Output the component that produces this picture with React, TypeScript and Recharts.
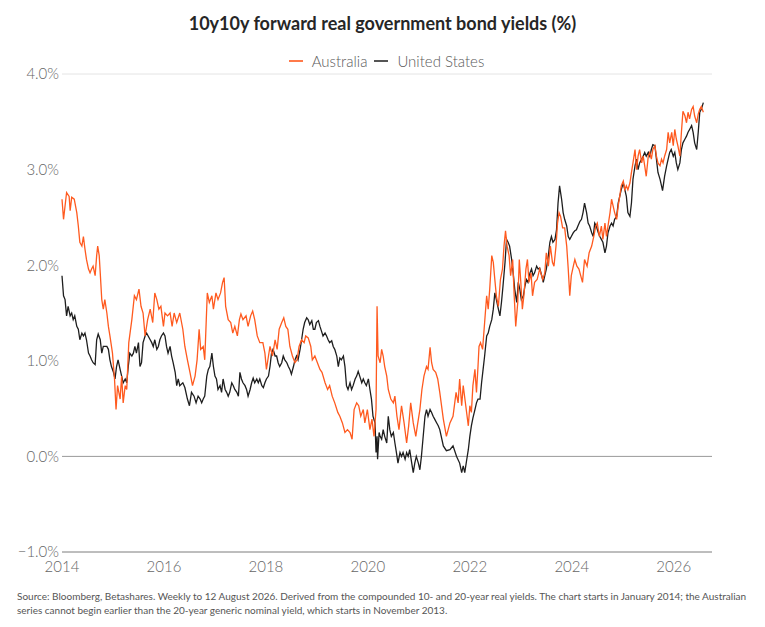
import React from 'react';
import { LineChart, Line, XAxis, YAxis, CartesianGrid, ReferenceLine } from 'recharts';

const title = '10y10y forward real government bond yields (%)';
const seriesNames = ['Australia', 'United States'];
const seriesColors = ['#FF5A1F', '#1E1E1E'];
const legendSwatchColors = ['#FF7A4A', '#555555'];
const yTicks = [-1, 0, 1, 2, 3, 4];
const xTicks = [2014, 2016, 2018, 2020, 2022, 2024, 2026];
const sourceLines = [
  'Source: Bloomberg, Betashares. Weekly to 12 August 2026. Derived from the compounded 10- and 20-year real yields. The chart starts in January 2014; the Australian',
  'series cannot begin earlier than the 20-year generic nominal yield, which starts in November 2013.',
];

const auYears = [
  2014.00, 2014.03, 2014.09, 2014.14, 2014.16, 2014.19, 2014.24, 2014.29, 2014.32, 2014.35, 2014.39, 2014.42, 2014.45, 2014.48, 2014.52, 2014.55, 2014.58, 2014.61, 2014.65, 2014.68, 2014.70, 2014.73, 2014.75, 2014.78, 2014.81, 2014.84, 2014.88, 2014.91, 2014.94, 2014.99,
  2015.03, 2015.06, 2015.09, 2015.14, 2015.17, 2015.20, 2015.24, 2015.27, 2015.31, 2015.37, 2015.42, 2015.46, 2015.51, 2015.55, 2015.59, 2015.63, 2015.68, 2015.73, 2015.78, 2015.82, 2015.86, 2015.90, 2015.94, 2015.99,
  2016.02, 2016.07, 2016.12, 2016.16, 2016.20, 2016.25, 2016.31, 2016.37, 2016.41, 2016.46, 2016.51, 2016.56, 2016.61, 2016.65, 2016.69, 2016.72, 2016.77, 2016.80, 2016.85, 2016.89, 2016.94, 2016.97,
  2017.02, 2017.06, 2017.11, 2017.15, 2017.18, 2017.21, 2017.26, 2017.31, 2017.35, 2017.39, 2017.44, 2017.48, 2017.51, 2017.55, 2017.61, 2017.65, 2017.70, 2017.74, 2017.78, 2017.83, 2017.88, 2017.94, 2017.98,
  2018.01, 2018.05, 2018.08, 2018.13, 2018.18, 2018.22, 2018.26, 2018.31, 2018.35, 2018.39, 2018.43, 2018.47, 2018.52, 2018.57, 2018.61, 2018.65, 2018.70, 2018.75, 2018.78, 2018.83, 2018.88, 2018.91, 2018.96,
  2019.01, 2019.06, 2019.10, 2019.16, 2019.21, 2019.25, 2019.30, 2019.35, 2019.41, 2019.45, 2019.50, 2019.55, 2019.60, 2019.65, 2019.69, 2019.73, 2019.78, 2019.82, 2019.86, 2019.91, 2019.94, 2019.99,
  2020.04, 2020.08, 2020.12, 2020.16, 2020.18, 2020.20, 2020.24, 2020.27, 2020.30, 2020.33, 2020.37, 2020.40, 2020.45, 2020.50, 2020.53, 2020.57, 2020.61, 2020.66, 2020.71, 2020.76, 2020.80, 2020.84, 2020.89, 2020.94, 2020.97,
  2021.02, 2021.06, 2021.10, 2021.15, 2021.18, 2021.22, 2021.25, 2021.28, 2021.33, 2021.37, 2021.41, 2021.48, 2021.54, 2021.61, 2021.67, 2021.73, 2021.77, 2021.80, 2021.84, 2021.87, 2021.92, 2021.97,
  2022.00, 2022.03, 2022.06, 2022.10, 2022.13, 2022.16, 2022.18, 2022.21, 2022.25, 2022.29, 2022.33, 2022.36, 2022.39, 2022.43, 2022.46, 2022.49, 2022.52, 2022.56, 2022.60, 2022.64, 2022.67, 2022.70, 2022.73, 2022.77, 2022.80, 2022.84, 2022.87, 2022.90, 2022.94, 2022.97,
  2023.00, 2023.03, 2023.06, 2023.10, 2023.13, 2023.16, 2023.20, 2023.23, 2023.27, 2023.32, 2023.37, 2023.43, 2023.47, 2023.50, 2023.54, 2023.58, 2023.62, 2023.65, 2023.69, 2023.72, 2023.75, 2023.78, 2023.82, 2023.86, 2023.90, 2023.93, 2023.96, 2023.99,
  2024.03, 2024.06, 2024.10, 2024.14, 2024.21, 2024.25, 2024.30, 2024.34, 2024.39, 2024.43, 2024.47, 2024.50, 2024.54, 2024.58, 2024.61, 2024.65, 2024.68, 2024.71, 2024.75, 2024.78, 2024.81, 2024.84, 2024.88, 2024.91, 2024.94, 2024.97,
  2025.01, 2025.04, 2025.07, 2025.10, 2025.14, 2025.17, 2025.20, 2025.24, 2025.27, 2025.30, 2025.33, 2025.37, 2025.40, 2025.43, 2025.46, 2025.50, 2025.53, 2025.56, 2025.59, 2025.63, 2025.66, 2025.69, 2025.73, 2025.76, 2025.79, 2025.82, 2025.86, 2025.89, 2025.92, 2025.96, 2025.99,
  2026.02, 2026.05, 2026.08, 2026.12, 2026.15, 2026.18, 2026.22, 2026.25, 2026.28, 2026.31, 2026.35, 2026.38, 2026.41, 2026.45, 2026.48, 2026.51, 2026.54, 2026.58,
];

const auYields = [
  2.69, 2.48, 2.76, 2.72, 2.57, 2.71, 2.69, 2.55, 2.41, 2.24, 2.20, 2.30, 2.17, 2.06, 1.96, 1.92, 1.96, 1.99, 1.89, 2.10, 2.20, 2.10, 1.92, 1.64, 1.54, 1.64, 1.50, 1.36, 1.26, 1.08,
  0.81, 0.49, 0.74, 0.60, 0.84, 0.56, 0.74, 0.70, 1.19, 1.43, 1.68, 1.64, 1.75, 1.57, 1.50, 1.26, 1.43, 1.54, 1.40, 1.71, 1.64, 1.54, 1.57, 1.36,
  1.50, 1.47, 1.50, 1.36, 1.50, 1.40, 1.50, 1.33, 1.15, 1.01, 0.88, 0.74, 0.84, 1.01, 1.33, 1.12, 1.15, 1.01, 1.71, 1.61, 1.68, 1.54,
  1.71, 1.64, 1.71, 1.82, 1.87, 1.57, 1.43, 1.40, 1.29, 1.36, 1.26, 1.43, 1.49, 1.43, 1.47, 1.36, 1.47, 1.52, 1.43, 1.26, 1.19, 1.19, 1.08,
  0.91, 1.05, 1.15, 1.05, 1.22, 1.12, 1.33, 1.40, 1.45, 1.36, 1.33, 1.15, 1.05, 0.98, 1.01, 1.15, 1.22, 1.19, 1.26, 1.24, 1.15, 1.01, 1.05,
  0.98, 0.91, 0.88, 0.77, 0.70, 0.74, 0.63, 0.56, 0.46, 0.42, 0.35, 0.25, 0.28, 0.25, 0.18, 0.49, 0.56, 0.53, 0.42, 0.49, 0.35, 0.49,
  0.28, 0.39, 0.21, 0.49, 1.57, 1.05, 0.98, 1.12, 1.05, 0.94, 0.84, 0.70, 0.60, 0.56, 0.63, 0.42, 0.28, 0.53, 0.35, 0.14, 0.32, 0.56, 0.35, 0.21, 0.32,
  0.49, 0.70, 0.84, 0.94, 0.91, 1.14, 0.98, 0.91, 0.88, 0.81, 0.67, 0.39, 0.21, 0.35, 0.42, 0.67, 0.56, 0.81, 0.53, 0.74, 0.53, 0.32,
  0.53, 0.46, 0.74, 0.91, 0.67, 0.94, 1.15, 1.19, 1.12, 1.40, 1.68, 1.54, 1.75, 2.10, 2.03, 1.85, 1.68, 1.57, 1.85, 1.96, 2.20, 2.36, 2.20, 2.10, 1.89, 2.06, 1.68, 1.36, 1.61, 2.06,
  1.82, 1.54, 1.68, 1.96, 2.06, 1.82, 1.92, 1.68, 1.82, 1.85, 1.96, 1.85, 1.92, 2.13, 1.99, 2.20, 2.03, 1.99, 2.20, 2.44, 2.55, 2.51, 2.39, 2.39, 2.20, 1.96, 1.68, 1.89,
  1.99, 2.06, 1.99, 1.96, 1.82, 2.06, 1.99, 2.13, 2.20, 2.30, 2.41, 2.44, 2.30, 2.41, 2.27, 2.44, 2.30, 2.41, 2.55, 2.69, 2.62, 2.55, 2.48, 2.62, 2.72, 2.83,
  2.88, 2.79, 2.83, 2.79, 2.86, 2.97, 3.07, 3.21, 3.00, 3.14, 3.21, 3.07, 3.14, 3.04, 2.93, 3.14, 3.18, 3.11, 3.21, 3.25, 3.14, 3.07, 3.04, 3.11, 3.07, 3.14, 3.21, 3.39, 3.28, 3.39, 3.25,
  3.42, 3.32, 3.25, 3.14, 3.39, 3.61, 3.56, 3.49, 3.60, 3.53, 3.63, 3.66, 3.56, 3.49, 3.58, 3.63, 3.66, 3.60,
];

const usYears = [
  2014.00, 2014.03, 2014.06, 2014.09, 2014.12, 2014.16, 2014.19, 2014.22, 2014.25, 2014.29, 2014.32, 2014.35, 2014.39, 2014.42, 2014.45, 2014.48, 2014.52, 2014.55, 2014.58, 2014.61, 2014.65, 2014.68, 2014.71, 2014.75, 2014.78, 2014.81, 2014.84, 2014.88, 2014.91, 2014.94, 2014.97,
  2015.01, 2015.04, 2015.07, 2015.10, 2015.14, 2015.17, 2015.20, 2015.24, 2015.27, 2015.30, 2015.33, 2015.37, 2015.40, 2015.43, 2015.46, 2015.50, 2015.53, 2015.56, 2015.59, 2015.63, 2015.66, 2015.69, 2015.73, 2015.76, 2015.79, 2015.82, 2015.86, 2015.89, 2015.92, 2015.95, 2015.99,
  2016.02, 2016.05, 2016.08, 2016.12, 2016.15, 2016.18, 2016.22, 2016.25, 2016.28, 2016.31, 2016.37, 2016.41, 2016.46, 2016.50, 2016.54, 2016.59, 2016.63, 2016.67, 2016.71, 2016.74, 2016.77, 2016.80, 2016.84, 2016.87, 2016.90, 2016.94, 2016.97,
  2017.00, 2017.03, 2017.06, 2017.10, 2017.13, 2017.16, 2017.20, 2017.23, 2017.26, 2017.29, 2017.33, 2017.36, 2017.39, 2017.43, 2017.46, 2017.49, 2017.52, 2017.55, 2017.59, 2017.62, 2017.65, 2017.69, 2017.72, 2017.75, 2017.78, 2017.82, 2017.85, 2017.88, 2017.92, 2017.95, 2017.98,
  2018.01, 2018.05, 2018.08, 2018.11, 2018.14, 2018.18, 2018.21, 2018.24, 2018.27, 2018.31, 2018.34, 2018.37, 2018.41, 2018.44, 2018.47, 2018.50, 2018.54, 2018.57, 2018.60, 2018.63, 2018.67, 2018.70, 2018.73, 2018.76, 2018.80, 2018.83, 2018.86, 2018.90, 2018.93, 2018.96, 2018.99,
  2019.03, 2019.06, 2019.09, 2019.12, 2019.16, 2019.19, 2019.22, 2019.25, 2019.29, 2019.32, 2019.35, 2019.39, 2019.42, 2019.45, 2019.48, 2019.52, 2019.55, 2019.58, 2019.61, 2019.65, 2019.68, 2019.71, 2019.75, 2019.78, 2019.81, 2019.84, 2019.88, 2019.91, 2019.94, 2019.97,
  2020.01, 2020.04, 2020.07, 2020.10, 2020.14, 2020.16, 2020.18, 2020.19, 2020.22, 2020.24, 2020.27, 2020.30, 2020.33, 2020.37, 2020.40, 2020.43, 2020.46, 2020.50, 2020.53, 2020.56, 2020.59, 2020.63, 2020.66, 2020.69, 2020.73, 2020.76, 2020.79, 2020.82, 2020.86, 2020.89, 2020.92, 2020.95, 2020.99,
  2021.02, 2021.05, 2021.08, 2021.12, 2021.15, 2021.18, 2021.22, 2021.25, 2021.28, 2021.31, 2021.35, 2021.38, 2021.41, 2021.48, 2021.54, 2021.61, 2021.67, 2021.74, 2021.80, 2021.84, 2021.87, 2021.90, 2021.94, 2021.97,
  2022.00, 2022.03, 2022.06, 2022.10, 2022.13, 2022.16, 2022.20, 2022.23, 2022.26, 2022.29, 2022.33, 2022.36, 2022.39, 2022.43, 2022.46, 2022.49, 2022.52, 2022.56, 2022.59, 2022.62, 2022.65, 2022.69, 2022.72, 2022.75, 2022.78, 2022.82, 2022.85, 2022.88, 2022.92, 2022.95, 2022.98,
  2023.01, 2023.05, 2023.08, 2023.11, 2023.14, 2023.18, 2023.21, 2023.24, 2023.27, 2023.31, 2023.34, 2023.37, 2023.41, 2023.44, 2023.47, 2023.50, 2023.54, 2023.57, 2023.60, 2023.63, 2023.67, 2023.70, 2023.73, 2023.76, 2023.80, 2023.83, 2023.86, 2023.90, 2023.93, 2023.96, 2023.99,
  2024.03, 2024.06, 2024.09, 2024.12, 2024.16, 2024.19, 2024.22, 2024.25, 2024.29, 2024.32, 2024.35, 2024.39, 2024.42, 2024.45, 2024.48, 2024.52, 2024.55, 2024.58, 2024.61, 2024.65, 2024.68, 2024.71, 2024.75, 2024.78, 2024.81, 2024.84, 2024.88, 2024.91, 2024.94, 2024.97,
  2025.01, 2025.04, 2025.07, 2025.10, 2025.14, 2025.17, 2025.20, 2025.24, 2025.27, 2025.30, 2025.33, 2025.37, 2025.40, 2025.43, 2025.46, 2025.50, 2025.53, 2025.56, 2025.59, 2025.63, 2025.66, 2025.69, 2025.73, 2025.76, 2025.78, 2025.82, 2025.86, 2025.89, 2025.92, 2025.95, 2025.99,
  2026.02, 2026.05, 2026.08, 2026.12, 2026.15, 2026.18, 2026.22, 2026.25, 2026.28, 2026.31, 2026.35, 2026.38, 2026.41, 2026.45, 2026.48, 2026.51, 2026.54, 2026.58,
];

const usYields = [
  1.89, 1.68, 1.64, 1.47, 1.57, 1.47, 1.50, 1.43, 1.47, 1.36, 1.33, 1.22, 1.29, 1.26, 1.29, 1.22, 1.08, 1.05, 1.01, 0.98, 0.96, 1.22, 1.28, 1.22, 1.08, 1.15, 1.15, 1.15, 1.12, 1.01, 0.94,
  0.88, 0.81, 0.94, 1.01, 0.91, 0.84, 0.77, 0.81, 0.77, 0.94, 1.08, 1.05, 1.08, 1.15, 1.08, 1.19, 0.94, 0.98, 1.19, 1.26, 1.29, 1.26, 1.22, 1.19, 1.15, 1.22, 1.12, 1.15, 1.22, 1.26, 1.29,
  1.26, 1.15, 1.08, 1.15, 1.05, 0.98, 0.88, 0.74, 0.81, 0.74, 0.77, 0.72, 0.60, 0.53, 0.67, 0.63, 0.56, 0.63, 0.60, 0.56, 0.60, 0.63, 0.84, 0.91, 0.94, 1.08, 0.94,
  0.84, 0.81, 0.70, 0.74, 0.67, 0.81, 0.70, 0.67, 0.63, 0.67, 0.77, 0.74, 0.70, 0.67, 0.63, 0.88, 0.81, 0.77, 0.74, 0.70, 0.63, 0.70, 0.77, 0.82, 0.77, 0.81, 0.77, 0.81, 0.74, 0.72, 0.77,
  0.81, 0.84, 0.94, 1.08, 1.12, 1.05, 1.05, 0.98, 0.94, 0.98, 1.05, 1.01, 0.98, 0.94, 0.91, 0.86, 0.94, 1.01, 1.05, 1.01, 1.12, 1.22, 1.33, 1.40, 1.45, 1.43, 1.38, 1.42, 1.33, 1.33, 1.40,
  1.42, 1.36, 1.31, 1.26, 1.29, 1.26, 1.22, 1.19, 1.21, 1.15, 1.12, 1.05, 0.94, 1.03, 1.01, 1.05, 0.94, 0.74, 0.70, 0.77, 0.70, 0.74, 0.81, 0.84, 0.89, 0.84, 0.77, 0.81, 0.77, 0.74,
  0.81, 0.70, 0.60, 0.42, 0.35, 0.04, 0.21, -0.03, 0.25, 0.21, 0.18, 0.28, 0.21, 0.14, 0.42, 0.28, 0.21, 0.25, 0.14, 0.04, -0.07, 0.04, 0.00, 0.04, -0.03, 0.04, 0.00, 0.07, -0.07, -0.17, -0.07, 0.00, -0.07,
  -0.14, 0.00, 0.18, 0.42, 0.49, 0.42, 0.49, 0.46, 0.42, 0.39, 0.35, 0.32, 0.28, 0.11, 0.06, 0.07, 0.11, 0.00, -0.07, -0.17, -0.10, -0.17, -0.03, 0.07,
  0.21, 0.32, 0.40, 0.49, 0.56, 0.60, 0.60, 0.77, 0.91, 1.05, 1.26, 1.29, 1.36, 1.43, 1.54, 1.71, 1.64, 1.54, 1.47, 1.61, 1.78, 2.03, 2.27, 2.24, 2.20, 2.06, 1.92, 1.75, 1.61, 1.82, 1.75,
  1.64, 1.68, 1.78, 1.85, 1.82, 1.92, 1.96, 1.89, 1.92, 1.99, 1.96, 1.97, 1.89, 1.82, 1.89, 1.96, 2.10, 2.24, 2.30, 2.24, 2.27, 2.37, 2.65, 2.83, 2.69, 2.55, 2.48, 2.41, 2.30, 2.27, 2.30,
  2.34, 2.36, 2.37, 2.41, 2.46, 2.48, 2.55, 2.65, 2.55, 2.44, 2.41, 2.34, 2.30, 2.44, 2.41, 2.34, 2.30, 2.27, 2.24, 2.13, 2.20, 2.34, 2.41, 2.44, 2.41, 2.48, 2.51, 2.65, 2.72, 2.79,
  2.86, 2.79, 2.72, 2.55, 2.51, 2.65, 2.90, 3.04, 3.11, 3.00, 3.07, 3.11, 3.14, 3.18, 3.14, 3.18, 3.14, 3.21, 3.26, 3.25, 3.11, 2.97, 2.90, 2.83, 2.78, 2.93, 3.04, 3.11, 3.18, 3.21, 3.14,
  3.18, 3.07, 3.00, 3.07, 3.21, 3.28, 3.32, 3.35, 3.39, 3.42, 3.46, 3.39, 3.28, 3.21, 3.39, 3.60, 3.63, 3.70,
];

const auData = auYears.map((t, i) => ({ t, v: auYields[i] }));
const usData = usYears.map((t, i) => ({ t, v: usYields[i] }));

const FONT = 'Lato, "Noto Sans", sans-serif';
const fmtPct = (v: number) => (v < 0 ? '\u2212' : '') + Math.abs(v).toFixed(1) + '%';
const tickStyle = { fill: '#666', fontSize: 15, fontFamily: FONT, fontWeight: 300 };

export default function App() {
  return (
    <div style={{ position: 'absolute', left: 0, top: 0, width: 765, height: 627, background: '#fff', fontFamily: FONT }}>
      <div style={{ position: 'absolute', top: 12, left: 0, width: 765, textAlign: 'center', fontSize: 18, fontWeight: 700, color: '#262626' }}>
        {title}
      </div>
      <div style={{ position: 'absolute', top: 52, left: 4, width: 765, display: 'flex', justifyContent: 'center', alignItems: 'center', fontSize: 15, fontWeight: 300, color: '#5a5a5a' }}>
        {seriesNames.map((n, i) => (
          <div key={n} style={{ display: 'flex', alignItems: 'center', marginLeft: i ? 7 : 0 }}>
            <span style={{ display: 'inline-block', width: 14, height: 2, background: legendSwatchColors[i], marginRight: 9 }} />
            <span>{n}</span>
          </div>
        ))}
      </div>
      <LineChart width={765} height={627} margin={{ top: 74, right: 3, bottom: 45, left: 7 }}>
        <CartesianGrid vertical={false} stroke="#e4e4e4" />
        <XAxis
          dataKey="t"
          type="number"
          domain={[2014, 2026.75]}
          ticks={xTicks}
          allowDuplicatedCategory={false}
          tickLine={false}
          tickSize={0}
          tickMargin={9}
          height={30}
          stroke="#8a8a8a"
          tick={tickStyle}
        />
        <YAxis
          yAxisId="left"
          type="number"
          domain={[-1, 4]}
          ticks={yTicks}
          tickFormatter={fmtPct}
          width={55}
          axisLine={false}
          tickLine={false}
          tickSize={0}
          tickMargin={3}
          tick={tickStyle}
        />
        <YAxis
          yAxisId="right"
          orientation="right"
          type="number"
          domain={[-1, 4]}
          ticks={yTicks}
          tickFormatter={fmtPct}
          width={50}
          axisLine={false}
          tickLine={false}
          tickSize={0}
          tickMargin={4}
          tick={tickStyle}
        />
        <ReferenceLine yAxisId="left" y={0} stroke="#9a9a9a" />
        <Line yAxisId="left" data={usData} dataKey="v" name={seriesNames[1]} stroke={seriesColors[1]} strokeWidth={1.3} dot={false} isAnimationActive={false} />
        <Line yAxisId="left" data={auData} dataKey="v" name={seriesNames[0]} stroke={seriesColors[0]} strokeWidth={1.3} dot={false} isAnimationActive={false} />
      </LineChart>
      <div style={{ position: 'absolute', top: 589, left: 17, fontSize: 10, lineHeight: '14px', color: '#555', whiteSpace: 'nowrap' }}>
        {sourceLines.map((l) => (
          <div key={l}>{l}</div>
        ))}
      </div>
    </div>
  );
}
